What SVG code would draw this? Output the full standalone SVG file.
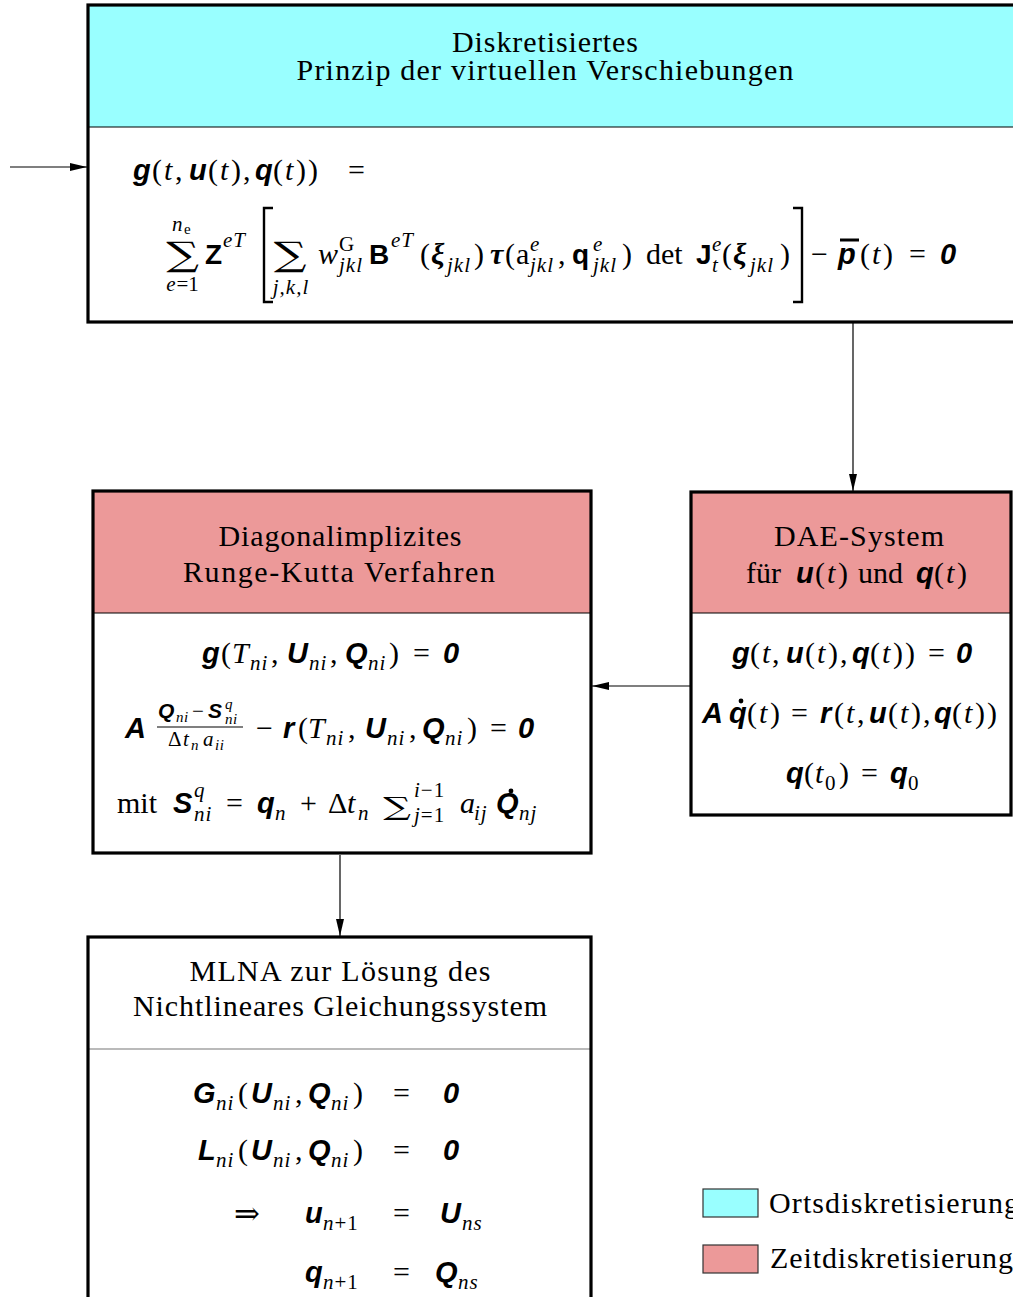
<svg xmlns="http://www.w3.org/2000/svg" width="1013" height="1297" viewBox="0 0 1013 1297">
<defs>
<marker id="ah" markerUnits="userSpaceOnUse" markerWidth="18" markerHeight="10" refX="17" refY="4" orient="auto">
<path d="M0,0 L17,4 L0,8 z" fill="#000"/>
</marker>
<style>
.box{fill:none;stroke:#000;stroke-width:3.2}
.sep{stroke:#000;stroke-width:1.2}
.sepg{stroke:#777;stroke-width:1.2}
.cy{fill:#99FFFF}
.pk{fill:#EC9999}
.ttl{font-family:"Liberation Serif",serif;font-size:30px;text-anchor:middle}
.rm{font-family:"Liberation Serif",serif;font-size:30px}
.it{font-family:"Liberation Serif",serif;font-style:italic;font-size:30px}
.bv{font-family:"Liberation Sans",sans-serif;font-weight:bold;font-style:italic;font-size:29px}
.bs{font-family:"Liberation Sans",sans-serif;font-weight:bold;font-size:28px}
.bg{font-family:"Liberation Serif",serif;font-weight:bold;font-style:italic;font-size:30px}
.si{font-family:"Liberation Serif",serif;font-style:italic;font-size:21px;letter-spacing:1px}
.sr{font-family:"Liberation Serif",serif;font-size:21px}
.ssi{font-family:"Liberation Serif",serif;font-style:italic;font-size:15px;letter-spacing:0.6px}
.sbv{font-family:"Liberation Sans",sans-serif;font-weight:bold;font-style:italic;font-size:21px}
.sum{font-family:"DejaVu Serif",serif;text-anchor:middle}
.up{font-style:normal}
.arr{stroke:#000;stroke-width:1.2;fill:none;marker-end:url(#ah)}
.brk{fill:none;stroke:#000;stroke-width:2.4}
</style>
</defs>
<rect width="1013" height="1297" fill="#fff"/>

<g id="connectors">
<line class="arr" x1="10" y1="167" x2="87" y2="167"/>
<line class="arr" x1="853" y1="323" x2="853" y2="491"/>
<line class="arr" x1="690" y1="686" x2="592" y2="686"/>
<line class="arr" x1="340" y1="855" x2="340" y2="936"/>
</g>

<g id="node-pvv">
<rect class="cy" x="88" y="5" width="940" height="122"/>
<line class="sep" x1="88" y1="127" x2="1013" y2="127"/>
<rect class="box" x="88" y="5" width="940" height="317"/>
<text class="ttl" x="545" y="52" textLength="186">Diskretisiertes</text>
<text class="ttl" x="545" y="80" textLength="497">Prinzip der virtuellen Verschiebungen</text>
<text class="rm" y="180"><tspan class="bv" x="133">g</tspan><tspan x="152">(</tspan><tspan class="it" x="164">t</tspan><tspan x="175">,</tspan><tspan class="bv" x="189">u</tspan><tspan x="208">(</tspan><tspan class="it" x="220">t</tspan><tspan x="231">)</tspan><tspan x="243">,</tspan><tspan class="bv" x="255">q</tspan><tspan x="273">(</tspan><tspan class="it" x="285">t</tspan><tspan x="296">)</tspan><tspan x="308">)</tspan><tspan x="348">=</tspan></text>
<text class="sum" x="0" y="0" transform="translate(182.5,266) scale(1.35,1)" style="font-size:34px">∑</text>
<text y="231"><tspan class="si" x="172">n</tspan><tspan class="ssi up" x="184" y="234">e</tspan></text>
<text class="sr" x="182.5" y="291" text-anchor="middle"><tspan class="si">e</tspan>=1</text>
<text class="bs" x="205" y="264">Z</text>
<text class="si" x="223" y="247">eT</text>
<polyline class="brk" points="273,208 264,208 264,302 273,302"/>
<text class="sum" x="0" y="0" transform="translate(290,266) scale(1.35,1)" style="font-size:34px">∑</text>
<text class="si" x="291" y="294" text-anchor="middle">j,k,l</text>
<text class="it" x="318" y="264">w</text>
<text class="sr" x="339" y="251">G</text>
<text class="si" x="339" y="272">jkl</text>
<text class="bs" x="369" y="264">B</text>
<text class="si" x="391" y="247">eT</text>
<text class="rm" y="264"><tspan x="420">(</tspan><tspan class="bg" x="431">ξ</tspan><tspan x="474">)</tspan></text>
<text class="si" x="447" y="272">jkl</text>
<text class="bg" x="490" y="264">τ</text>
<text class="rm" y="264"><tspan x="505">(</tspan><tspan x="516">a</tspan><tspan x="558">,</tspan></text>
<text class="si" x="530" y="251">e</text>
<text class="si" x="530" y="272">jkl</text>
<text class="bs" x="572" y="264">q</text>
<text class="si" x="593" y="251">e</text>
<text class="si" x="593" y="272">jkl</text>
<text class="rm" y="264"><tspan x="622">)</tspan><tspan x="646">det</tspan></text>
<text class="bs" x="696" y="264">J</text>
<text class="si" x="712" y="251">e</text>
<text class="si" x="712" y="272">t</text>
<text class="rm" y="264"><tspan x="722">(</tspan><tspan class="bg" x="733">ξ</tspan><tspan x="780">)</tspan></text>
<text class="si" x="750" y="272">jkl</text>
<polyline class="brk" points="793,208 802,208 802,302 793,302"/>
<text class="rm" x="811" y="264">−</text>
<text class="bv" x="838" y="264">p</text>
<line x1="840" y1="240" x2="859" y2="240" stroke="#000" stroke-width="3"/>
<text class="rm" y="264"><tspan x="860">(</tspan><tspan class="it" x="872">t</tspan><tspan x="883">)</tspan><tspan x="909">=</tspan></text>
<text class="bv" x="940" y="264">0</text>
</g>

<g id="node-dirk">
<rect class="pk" x="93" y="491" width="498" height="122"/>
<line class="sep" x1="93" y1="613" x2="591" y2="613"/>
<rect class="box" x="93" y="491" width="498" height="362"/>
<text class="ttl" x="340" y="546" textLength="243">Diagonalimplizites</text>
<text class="ttl" x="339" y="582" textLength="312">Runge-Kutta Verfahren</text>
<text class="rm" y="663"><tspan class="bv" x="202">g</tspan><tspan x="221">(</tspan><tspan class="it" x="232">T</tspan><tspan x="271">,</tspan><tspan class="bv" x="287">U</tspan><tspan x="330">,</tspan><tspan class="bv" x="345">Q</tspan><tspan x="389">)</tspan><tspan x="413">=</tspan><tspan class="bv" x="443">0</tspan></text>
<text class="si" y="670"><tspan x="250">ni</tspan><tspan x="309">ni</tspan><tspan x="368">ni</tspan></text>
<text class="bv" x="125" y="738">A</text>
<text class="sbv" x="158" y="718">Q</text>
<text class="ssi" x="176" y="722">ni</text>
<text class="sr" x="192" y="718">−</text>
<text class="sbv" x="208" y="718">S</text>
<text class="ssi" x="225" y="709">q</text>
<text class="ssi" x="225" y="724">ni</text>
<line x1="157" y1="727" x2="243" y2="727" stroke="#000" stroke-width="1.2"/>
<text class="sr" x="168" y="746">Δ</text>
<text class="si" x="183" y="746">t</text>
<text class="ssi" x="191" y="750">n</text>
<text class="si" x="203" y="746">a</text>
<text class="ssi" x="215" y="750">ii</text>
<text class="rm" y="738"><tspan x="256">−</tspan><tspan class="bv" x="283">r</tspan><tspan x="298">(</tspan><tspan class="it" x="308">T</tspan><tspan x="348">,</tspan><tspan class="bv" x="365">U</tspan><tspan x="409">,</tspan><tspan class="bv" x="422">Q</tspan><tspan x="467">)</tspan><tspan x="490">=</tspan><tspan class="bv" x="518">0</tspan></text>
<text class="si" y="745"><tspan x="326">ni</tspan><tspan x="387">ni</tspan><tspan x="445">ni</tspan></text>
<text class="rm" y="813"><tspan x="117">mit</tspan><tspan class="bv" x="173">S</tspan><tspan x="226">=</tspan><tspan class="bv" x="257">q</tspan><tspan x="300">+</tspan><tspan x="328">Δ</tspan><tspan class="it" x="347">t</tspan><tspan class="it" x="460">a</tspan><tspan class="bv" x="496">Q</tspan></text>
<text class="si" x="194" y="797">q</text>
<text class="si" x="194" y="821">ni</text>
<text class="si" x="275" y="820">n</text>
<text class="si" x="358" y="820">n</text>
<text class="sum" x="0" y="0" transform="translate(397,815) scale(1.55,1)" style="font-size:25px">∑</text>
<text class="si" x="414" y="797">i<tspan class="up">−1</tspan></text>
<text class="si" x="414" y="822">j<tspan class="up">=1</tspan></text>
<text class="si" x="474" y="820">ij</text>
<circle cx="511" cy="791" r="2.4" fill="#000"/>
<text class="si" x="519" y="820">nj</text>
</g>

<g id="node-dae">
<rect class="pk" x="691" y="492" width="320" height="121"/>
<line class="sep" x1="691" y1="613" x2="1011" y2="613"/>
<rect class="box" x="691" y="492" width="320" height="323"/>
<text class="ttl" x="859" y="546" textLength="170">DAE-System</text>
<text class="rm" y="583"><tspan x="746">für</tspan><tspan class="bv" x="796">u</tspan><tspan x="815">(</tspan><tspan class="it" x="827">t</tspan><tspan x="838">)</tspan><tspan x="858">und</tspan><tspan class="bv" x="916">q</tspan><tspan x="934">(</tspan><tspan class="it" x="946">t</tspan><tspan x="957">)</tspan></text>
<text class="rm" y="663"><tspan class="bv" x="732">g</tspan><tspan x="750">(</tspan><tspan class="it" x="762">t</tspan><tspan x="772">,</tspan><tspan class="bv" x="786">u</tspan><tspan x="805">(</tspan><tspan class="it" x="817">t</tspan><tspan x="828">)</tspan><tspan x="840">,</tspan><tspan class="bv" x="852">q</tspan><tspan x="870">(</tspan><tspan class="it" x="882">t</tspan><tspan x="893">)</tspan><tspan x="905">)</tspan><tspan x="928">=</tspan><tspan class="bv" x="956">0</tspan></text>
<text class="rm" y="723"><tspan class="bv" x="702">A</tspan><tspan class="bv" x="729">q</tspan><tspan x="747">(</tspan><tspan class="it" x="759">t</tspan><tspan x="770">)</tspan><tspan x="791">=</tspan><tspan class="bv" x="820">r</tspan><tspan x="834">(</tspan><tspan class="it" x="846">t</tspan><tspan x="857">,</tspan><tspan class="bv" x="869">u</tspan><tspan x="888">(</tspan><tspan class="it" x="900">t</tspan><tspan x="911">)</tspan><tspan x="923">,</tspan><tspan class="bv" x="934">q</tspan><tspan x="952">(</tspan><tspan class="it" x="964">t</tspan><tspan x="975">)</tspan><tspan x="987">)</tspan></text>
<circle cx="741" cy="701" r="2.4" fill="#000"/>
<text class="rm" y="783"><tspan class="bv" x="786">q</tspan><tspan x="804">(</tspan><tspan class="it" x="815">t</tspan><tspan x="839">)</tspan><tspan x="861">=</tspan><tspan class="bv" x="890">q</tspan></text>
<text class="sr" y="790"><tspan x="825">0</tspan><tspan x="908">0</tspan></text>
</g>

<g id="node-mlna">
<line class="sepg" x1="88" y1="1049" x2="591" y2="1049"/>
<rect class="box" x="88" y="937" width="503" height="400"/>
<text class="ttl" x="340" y="981" textLength="301">MLNA zur Lösung des</text>
<text class="ttl" x="340" y="1016" textLength="414">Nichtlineares Gleichungssystem</text>
<text class="rm" y="1103"><tspan class="bv" x="193">G</tspan><tspan x="238">(</tspan><tspan class="bv" x="251">U</tspan><tspan x="295">,</tspan><tspan class="bv" x="308">Q</tspan><tspan x="353">)</tspan><tspan x="393">=</tspan><tspan class="bv" x="443">0</tspan></text>
<text class="si" y="1110"><tspan x="216">ni</tspan><tspan x="273">ni</tspan><tspan x="331">ni</tspan></text>
<text class="rm" y="1160"><tspan class="bv" x="198">L</tspan><tspan x="238">(</tspan><tspan class="bv" x="251">U</tspan><tspan x="295">,</tspan><tspan class="bv" x="308">Q</tspan><tspan x="353">)</tspan><tspan x="393">=</tspan><tspan class="bv" x="443">0</tspan></text>
<text class="si" y="1167"><tspan x="216">ni</tspan><tspan x="273">ni</tspan><tspan x="331">ni</tspan></text>
<text x="234" y="1224" font-family="DejaVu Serif, serif" font-size="31">⇒</text>
<text class="rm" y="1223"><tspan class="bv" x="305">u</tspan><tspan x="393">=</tspan><tspan class="bv" x="440">U</tspan></text>
<text class="si" y="1230"><tspan x="323">n<tspan class="up">+1</tspan></tspan><tspan x="462">ns</tspan></text>
<text class="rm" y="1282"><tspan class="bv" x="305">q</tspan><tspan x="393">=</tspan><tspan class="bv" x="435">Q</tspan></text>
<text class="si" y="1289"><tspan x="323">n<tspan class="up">+1</tspan></tspan><tspan x="458">ns</tspan></text>
</g>

<g id="legend">
<rect class="cy" x="703" y="1189" width="55" height="28" stroke="#333" stroke-width="1.2"/>
<rect class="pk" x="703" y="1245" width="55" height="28" stroke="#333" stroke-width="1.2"/>
<text class="rm" x="769" y="1213" textLength="250">Ortsdiskretisierung</text>
<text class="rm" x="770" y="1268" textLength="243">Zeitdiskretisierung</text>
</g>
</svg>
